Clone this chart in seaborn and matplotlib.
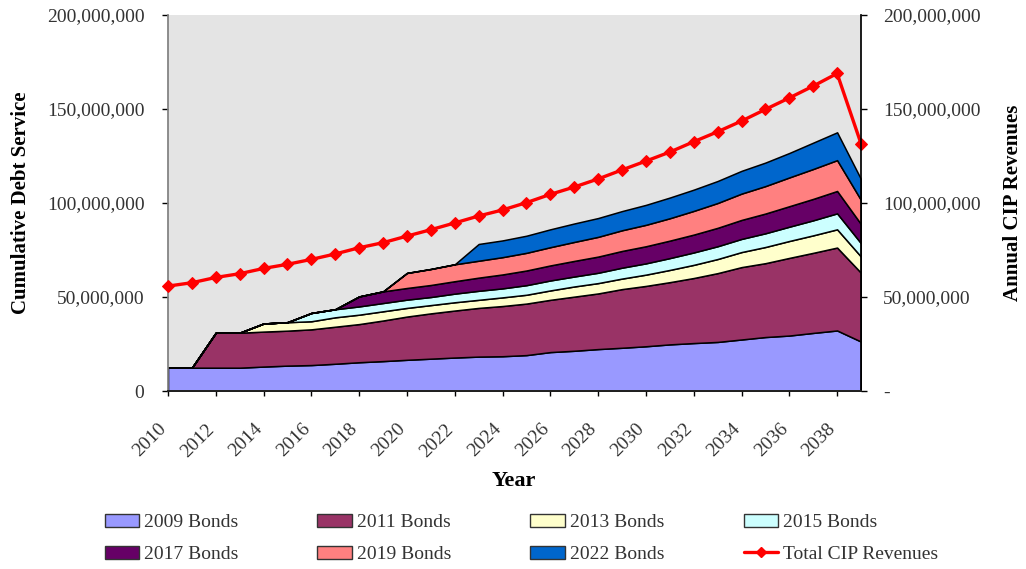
import numpy as np
import pandas as pd
import matplotlib
matplotlib.use('Agg')
import matplotlib.pyplot as plt
import seaborn as sns
from matplotlib.patches import Patch
from matplotlib.lines import Line2D
from matplotlib.ticker import FuncFormatter
from matplotlib.transforms import ScaledTranslation

years = list(range(2010, 2040))

# annual debt service per bond issue, in millions
bonds_2009 = [12.4, 12.4, 12.4, 12.4, 13.0, 13.5, 13.8, 14.5, 15.3, 15.9,
              16.6, 17.2, 17.8, 18.3, 18.5, 19.1, 20.7, 21.4, 22.3, 23.0,
              23.8, 24.8, 25.5, 26.1, 27.4, 28.7, 29.5, 30.9, 32.2, 26.3]
bonds_2011 = [0, 0, 18.6, 18.6, 18.6, 18.6, 19.0, 19.7, 20.3, 21.6,
              23.0, 24.1, 25.0, 25.9, 26.7, 27.4, 27.8, 28.8, 29.6, 31.2,
              32.1, 33.1, 34.6, 36.6, 38.5, 39.3, 41.3, 42.6, 44.1, 36.6]
bonds_2013 = [0, 0, 0, 0, 4.3, 4.5, 4.3, 5.0, 5.0, 4.9,
              4.6, 4.4, 4.4, 4.3, 4.6, 4.7, 5.0, 5.4, 5.5, 5.6,
              6.0, 6.5, 7.0, 7.5, 8.0, 8.6, 9.0, 9.3, 9.7, 8.6]
bonds_2015 = [0, 0, 0, 0, 0, 0, 4.4, 4.3, 4.4, 4.4,
              4.4, 4.3, 4.6, 4.8, 4.8, 5.1, 5.3, 5.3, 5.5, 5.8,
              6.0, 6.3, 6.6, 6.8, 7.0, 7.3, 7.6, 8.0, 8.5, 7.1]
bonds_2017 = [0, 0, 0, 0, 0, 0, 0, 0, 5.3, 6.2,
              6.2, 6.4, 6.6, 7.0, 7.4, 7.8, 8.0, 8.3, 8.6, 8.9,
              9.1, 9.3, 9.5, 9.8, 10.1, 10.5, 10.9, 11.4, 11.9, 10.2]
bonds_2019 = [0, 0, 0, 0, 0, 0, 0, 0, 0, 0,
              8.0, 8.5, 9.0, 9.0, 9.2, 9.4, 9.7, 10.1, 10.5, 11.0,
              11.4, 11.9, 12.6, 13.2, 14.0, 14.6, 15.3, 15.9, 16.4, 12.8]
bonds_2022 = [0, 0, 0, 0, 0, 0, 0, 0, 0, 0,
              0, 0, 0, 8.9, 8.9, 9.1, 9.5, 9.8, 10.0, 10.2,
              10.6, 11.0, 11.3, 11.7, 12.1, 12.5, 13.0, 14.0, 14.8, 11.1]
total_cip = [55.8, 57.6, 60.4, 62.4, 65.2, 67.4, 70.0, 72.9, 76.2, 78.9,
             82.4, 85.8, 89.4, 93.1, 96.3, 100.2, 104.6, 108.5, 112.8, 117.6,
             122.3, 127.1, 132.6, 137.9, 143.6, 149.8, 155.9, 162.2, 168.9, 131.6]

bond_names = ['2009 Bonds', '2011 Bonds', '2013 Bonds', '2015 Bonds',
              '2017 Bonds', '2019 Bonds', '2022 Bonds']
bond_colors = ['#9999FF', '#993366', '#FFFFCC', '#CCFFFF',
               '#660066', '#FF8080', '#0066CC']

df = pd.DataFrame({'Year': years})
for name, vals in zip(bond_names, [bonds_2009, bonds_2011, bonds_2013, bonds_2015,
                                   bonds_2017, bonds_2019, bonds_2022]):
    df[name] = np.array(vals) * 1e6
df['Total CIP Revenues'] = np.array(total_cip) * 1e6

sns.set_theme(style='ticks')
plt.rcParams['font.family'] = ['Liberation Serif', 'DejaVu Serif']
txt_col = '#333333'

fig = plt.figure(figsize=(10.26, 5.69), dpi=100)
W, H = 1026, 569
ax = fig.add_axes([168 / W, 1 - 391 / H, (861 - 168) / W, (391 - 15) / H])
ax.set_facecolor('#E4E4E4')

ax.stackplot(df['Year'], *[df[n] for n in bond_names], colors=bond_colors,
             edgecolor='black', linewidth=1.1)

ax.set_xlim(2010, 2039)
ax.set_ylim(0, 200e6)
ax.set_yticks(np.arange(0, 200e6 + 1, 50e6))
ax.yaxis.set_major_formatter(FuncFormatter(lambda v, p: f'{v:,.0f}'))
ax.set_xticks(range(2010, 2039, 2))
ax.set_xticklabels([str(y) for y in range(2010, 2039, 2)], rotation=45,
                   ha='right', va='center', rotation_mode='anchor')
ax.tick_params(axis='y', direction='out', length=4.5, width=1, pad=12.5,
               labelsize=14, labelcolor=txt_col, color='black')
ax.tick_params(axis='x', direction='out', length=3.6, width=1, pad=22,
               labelsize=14, labelcolor=txt_col, color='black')
shift = ScaledTranslation(-4 / 100, 0, fig.dpi_scale_trans)
for lbl in ax.get_xticklabels():
    lbl.set_transform(lbl.get_transform() + shift)
ax.spines['top'].set_visible(False)
ax.spines['right'].set_visible(False)
ax.spines['left'].set_color('#808080')
ax.spines['bottom'].set_color('black')
ax.set_ylabel('Cumulative Debt Service', fontsize=15, fontweight='bold', color='black')
ax.yaxis.set_label_coords((31 - 168) / 693, 0.5)
ax.set_xlabel('Year', fontsize=16, fontweight='bold', color='black')
ax.xaxis.set_label_coords((514 - 168) / 693, (391 - 471) / 376)

ax2 = ax.twinx()
sns.lineplot(data=df, x='Year', y='Total CIP Revenues', ax=ax2, color='red',
             marker='D', markersize=6, markeredgecolor='red', linewidth=2.4,
             clip_on=False)
ax2.set_ylim(0, 200e6)
ax2.set_yticks(np.arange(0, 200e6 + 1, 50e6))
ax2.yaxis.set_major_formatter(FuncFormatter(lambda v, p: '-' if v == 0 else f'{v:,.0f}'))
ax2.tick_params(axis='y', direction='out', length=4.5, width=1, pad=11.5,
                labelsize=14, labelcolor=txt_col, color='black')
ax2.spines['top'].set_visible(False)
ax2.spines['left'].set_visible(False)
ax2.spines['right'].set_color('black')
ax2.set_ylabel('Annual CIP Revenues', fontsize=15, fontweight='bold', color='black')
ax2.yaxis.set_label_coords((1003 - 168) / 693, 0.5)

handles = [Patch(facecolor=c, edgecolor='#333333', label=n)
           for n, c in zip(bond_names, bond_colors)]
handles.append(Line2D([0], [0], color='red', marker='D', markersize=5,
                      linewidth=2.4, label='Total CIP Revenues'))
# column-major fill -> reorder so rows read left to right
order = [0, 4, 1, 5, 2, 6, 3, 7]
fig.legend([handles[i] for i in order], [handles[i].get_label() for i in order],
           ncol=4, loc='upper left', bbox_to_anchor=(87 / W, 1 - 496 / H),
           frameon=False, fontsize=14, handlelength=1.75, handleheight=0.67,
           handletextpad=0.3, columnspacing=4.05, labelspacing=0.75,
           labelcolor=txt_col)

fig.savefig('out.png', dpi=100)
plt.close(fig)
